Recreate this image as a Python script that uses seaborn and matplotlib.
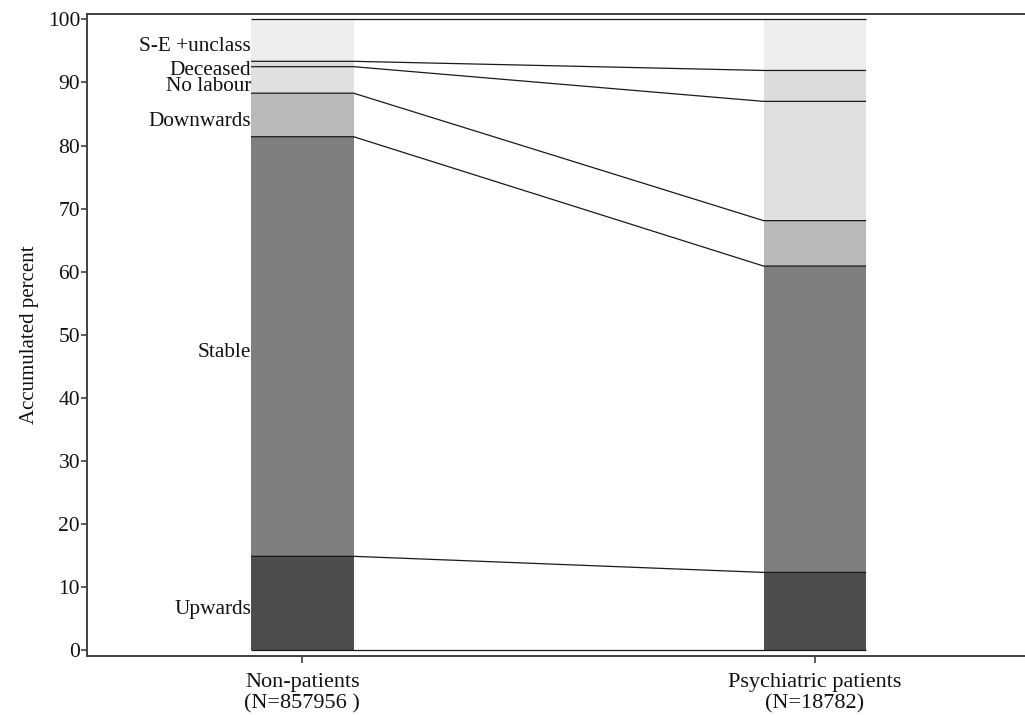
import numpy as np
import pandas as pd
import matplotlib
matplotlib.use("Agg")
import matplotlib.pyplot as plt
import seaborn as sns

# Social mobility categories, bottom to top of each stacked bar
categories = ["Upwards", "Stable", "Downwards", "No labour", "Deceased", "S-E +unclass"]
groups = ["Non-patients\n(N=857956 )", "Psychiatric patients\n(N=18782)"]
non_patients = [14.9, 66.5, 6.9, 4.2, 0.85, 6.65]
psychiatric = [12.35, 48.55, 7.2, 18.9, 4.9, 8.1]
shades = ["#4d4d4d", "#7f7f7f", "#bababa", "#e0e0e0", "#dcdcdc", "#eeeeee"]

sns.set_theme(style="white")
plt.rcParams["font.family"] = ["Liberation Serif", "DejaVu Serif"]

cum_np = np.cumsum(non_patients)
cum_ps = np.cumsum(psychiatric)

fig = plt.figure(figsize=(10.25, 7.15), dpi=100)
ax = fig.add_axes([0.0849, 0.0825, 0.9151, 0.8975])

bar_w = 0.2
# stacked bars: draw the tallest cumulative layer first, then cover downwards
for i in range(len(categories) - 1, -1, -1):
    df = pd.DataFrame({"group": groups, "top": [cum_np[i], cum_ps[i]]})
    sns.barplot(data=df, x="group", y="top", color=shades[i], saturation=1,
                width=bar_w, linewidth=0, ax=ax, errorbar=None)

# boundary lines across each bar, joined between the two bars
bounds_left = np.concatenate([[0.0], cum_np])
bounds_right = np.concatenate([[0.0], cum_ps])
xs = [-bar_w / 2, bar_w / 2, 1 - bar_w / 2, 1 + bar_w / 2]
for yl, yr in zip(bounds_left, bounds_right):
    ax.plot(xs, [yl, yl, yr, yr], color="#1a1a1a", lw=0.9, solid_capstyle="butt")

# category labels beside the first bar
mids = cum_np - np.array(non_patients) / 2
for name, m in zip(categories, mids):
    ax.annotate(name, xy=(-bar_w / 2, m), xytext=(0, -4.5), textcoords="offset points",
                ha="right", va="center", fontsize=15.3, color="#111111")

ax.set_xlim(-0.42, 1.41)
ax.set_ylim(-0.9, 100.8)
ax.set_yticks(np.arange(0, 101, 10))
ax.set_xlabel("")
ax.set_ylabel("Accumulated percent", fontsize=15, color="#111111", labelpad=6)

for side in ["left", "bottom", "top"]:
    ax.spines[side].set_visible(True)
    ax.spines[side].set_color("#404040")
    ax.spines[side].set_linewidth(1.4)
ax.spines["right"].set_visible(False)

ax.tick_params(axis="y", which="both", left=True, length=4, width=1.2, color="#404040",
               pad=1, labelsize=15.5, labelcolor="#111111")
ax.tick_params(axis="x", which="both", bottom=True, length=5, width=1.2, color="#404040",
               pad=7, labelsize=16, labelcolor="#111111")
for lab in ax.get_xticklabels():
    lab.set_linespacing(1.2)

fig.savefig("out.png", dpi=100)
